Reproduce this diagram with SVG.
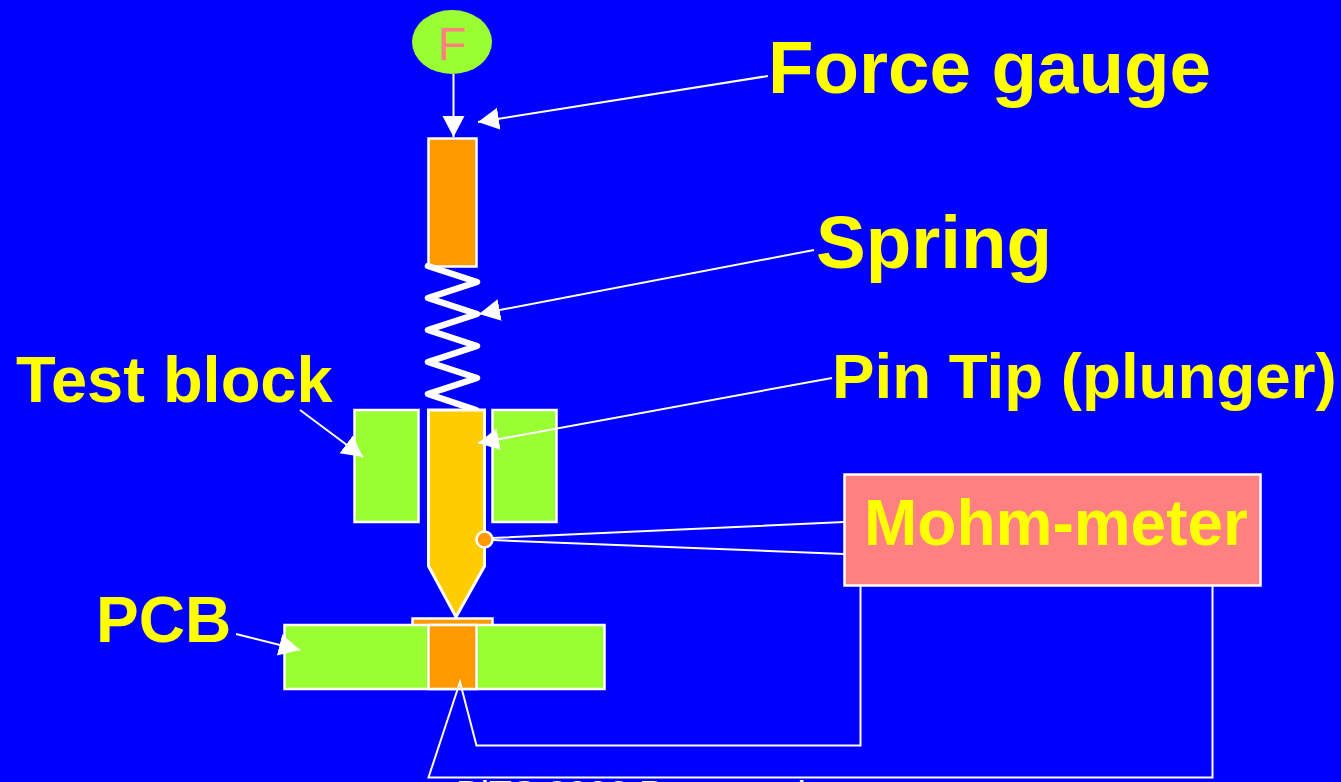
<svg xmlns="http://www.w3.org/2000/svg" width="1341" height="782" viewBox="0 0 1341 782">
<style>
.lbl{font-family:"Liberation Sans",Arial,sans-serif;font-weight:bold;fill:#ffff00}
.s{stroke:#fff;stroke-width:2.5}
.org{fill:#ff9900}
.grn{fill:#99ff33}
.ln{fill:none;stroke:#fff;stroke-width:2}
</style>
<defs>
<marker id="ah" markerUnits="userSpaceOnUse" markerWidth="24" markerHeight="24" refX="21" refY="11" orient="auto"><path d="M0,0L21,11L0,22Z" fill="#fff"/></marker>
</defs>
<rect width="1341" height="782" fill="#0000ff"/>
<g id="footer"><text x="456" y="807" font-family="Liberation Sans, Arial, sans-serif" fill="#fff" font-size="37">BiTS 2002 Presentation</text></g>
<g id="force-sensor"><ellipse cx="452" cy="42" rx="40" ry="32" class="grn"/><text x="452" y="60" text-anchor="middle" font-family="Liberation Sans, Arial, sans-serif" font-size="47" fill="#ff8080">F</text></g>
<g id="barrel"><rect x="428.500" y="138.500" width="48" height="128" class="org s"/></g>
<g id="spring"><path d="M428,266L477,282L428,298L477,314L428,330L477,346L428,362L477,378L428,394L476,410" fill="none" stroke="#fff" stroke-width="6.500" stroke-linejoin="round" stroke-linecap="round"/></g>
<g id="test-block-left"><rect x="354.500" y="410" width="64" height="112" class="grn s"/></g>
<g id="test-block-right"><rect x="492.500" y="410" width="64" height="112" class="grn s"/></g>
<g id="plunger"><path d="M428.500,410H484.500V566L456,617L428.500,566Z" fill="#ffcc00" stroke="#fff" stroke-width="3"/></g>
<g id="pcb-pad"><rect x="412.500" y="618.500" width="80" height="8" class="org s"/></g>
<g id="pcb"><rect x="284.500" y="625" width="320" height="64" class="grn s"/><rect x="428.500" y="625" width="48" height="64" class="org s"/></g>
<g id="probe-contact"><circle cx="484.500" cy="539.500" r="8" class="org s"/></g>
<g id="mohm-meter"><rect x="844.500" y="474.500" width="416" height="111" fill="#ff8080" class="s"/><text x="1056" y="545" text-anchor="middle" class="lbl" font-size="64">Mohm-meter</text></g>
<g id="connectors">
<path class="ln" d="M453.500,74V137" marker-end="url(#ah)"/>
<path class="ln" d="M768,76L478,122" marker-end="url(#ah)"/>
<path class="ln" d="M814,250L479,314" marker-end="url(#ah)"/>
<path class="ln" d="M832,378L478,443" marker-end="url(#ah)"/>
<path class="ln" d="M300,410L363,457" marker-end="url(#ah)"/>
<path class="ln" d="M236,634L300,650" marker-end="url(#ah)"/>
<path class="ln" d="M844,522L492,538M844,554L492,540"/>
<path class="ln" d="M860.500,586V745.500H476.500L460,682L428.500,777.500H1212.500V586"/>
</g>
<g id="label-force-gauge"><text x="768" y="93" class="lbl" font-size="74.500">Force gauge</text></g>
<g id="label-spring"><text x="816" y="268" class="lbl" font-size="74.500">Spring</text></g>
<g id="label-pin-tip"><text x="832" y="398" class="lbl" font-size="63.700">Pin Tip (plunger)</text></g>
<g id="label-test-block"><text x="16" y="402" class="lbl" font-size="65">Test block</text></g>
<g id="label-pcb"><text x="96" y="642" class="lbl" font-size="64">PCB</text></g>
</svg>
